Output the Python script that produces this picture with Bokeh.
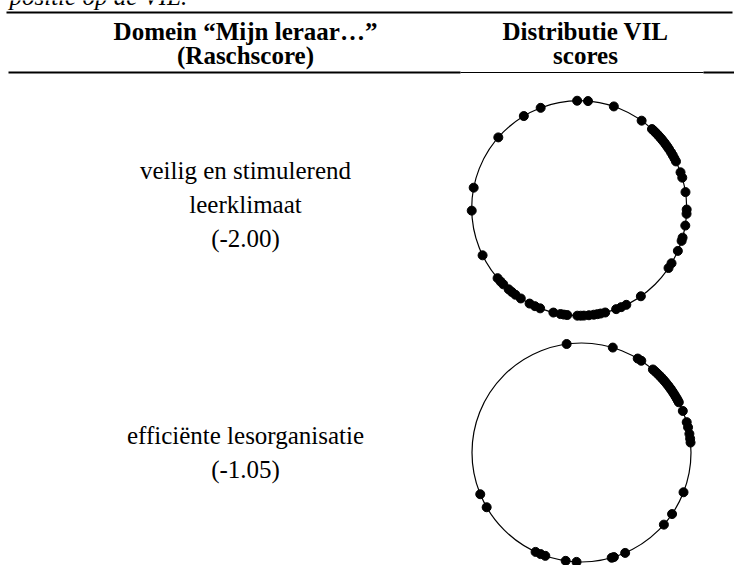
import numpy as np
from bokeh.plotting import figure
from bokeh.models import Range1d
from bokeh.embed import file_html
from bokeh.resources import INLINE
from bokeh.core.properties import value

# ---------------- data ----------------
caption = "positie op de VIL."
header_left = ["Domein \u201cMijn leraar\u2026\u201d", "(Raschscore)"]
header_right = ["Distributie VIL", "scores"]
domain_lines = [["veilig en stimulerend", "leerklimaat"], ["effici\u00ebnte lesorganisatie"]]
rasch_scores = [-2.00, -1.05]

# position of each VIL score on the circle (degrees, counter-clockwise from east)
angles_klimaat = [91.1, 85.3, 71.2, 54.5, 47.4, 46.0, 44.9, 43.4, 42.0, 40.5, 39.2, 37.6,
                  36.3, 34.8, 33.2, 31.2, 29.5, 27.6, 25.8, 19.5, 16.5, 8.6, -0.7, -3.0,
                  -9.3, -15.9, -17.7, -23.4, -30.8, -33.8, -55.0, -64.0, -67.0, -69.9,
                  -76.0, -78.5, -80.3, -82.2, -84.8, -87.5, -89.2, -91.0, -96.4, -98.2,
                  -100.0, -103.9, -111.3, -114.3, -117.5, -122.9, -126.4, -128.8, -131.0,
                  -134.9, -137.0, -139.4, -154.0, -178.7, 169.0, 138.8, 121.0, 111.0]
angles_lesorg = [97.8, 73.4, 59.1, 56.9, 49.3, 47.8, 46.3, 44.7, 43.2, 41.8, 40.4, 39.0,
                 37.6, 36.3, 35.1, 33.7, 32.4, 31.0, 29.7, 28.5, 27.3, 22.3, 16.1, 13.3,
                 9.8, 7.3, 5.2, -21.3, -34.2, -41.2, -66.5, -72.8, -74.0, -92.6, -98.3,
                 -109.3, -111.9, -114.8, -150.0, -157.6]
angle_sets = [angles_klimaat, angles_lesorg]

# ---------------- layout (page pixels) ----------------
W, H = 734, 565
circle_cx = [578.7, 581.0]
circle_cy = [207.7, 452.0]
circle_r = [107.5, 109.5]
label_y = [[170, 204, 238], [435, 469]]
header_y = [31, 55]
left_cx = 245
right_cx = 585
serif = value("Liberation Serif")

p = figure(width=W, height=H, output_backend="svg", toolbar_location=None,
           x_range=Range1d(0, W), y_range=Range1d(H, 0),
           min_border=0, outline_line_color=None)
p.axis.visible = False
p.grid.visible = False
p.background_fill_color = "white"
p.border_fill_color = "white"

# caption (cut off at the top)
p.text(x=[9], y=[-4], text=[caption], text_font=serif, text_font_size="25px",
       text_font_style="italic", text_baseline="middle", text_align="left",
       text_color="black")

# table rules
p.segment(x0=[6], y0=[12], x1=[732], y1=[12], line_color="black", line_width=2)
p.segment(x0=[8, 703], y0=[72, 72], x1=[460, 734], y1=[72, 72], line_color="black", line_width=2)
p.segment(x0=[460], y0=[72], x1=[703], y1=[72], line_color="black", line_width=1)

# headers
p.text(x=[left_cx] * 2, y=header_y, text=header_left, text_font=serif, text_font_size="25px",
       text_font_style="bold", text_align="center", text_baseline="middle", text_color="black")
p.text(x=[right_cx] * 2, y=header_y, text=header_right, text_font=serif, text_font_size="25px",
       text_font_style="bold", text_align="center", text_baseline="middle", text_color="black")

# domain labels
for i, lines in enumerate(domain_lines):
    all_lines = lines + [f"({rasch_scores[i]:.2f})"]
    n = len(all_lines)
    p.text(x=[left_cx] * n, y=label_y[i], text=all_lines, text_font=serif,
           text_font_size="25px", text_align="center", text_baseline="middle",
           text_color="black")

# circles and score dots
for i, angs in enumerate(angle_sets):
    a = np.radians(np.array(angs))
    cx, cy, r = circle_cx[i], circle_cy[i], circle_r[i]
    p.circle(x=[cx], y=[cy], radius=r, fill_color=None, line_color="black", line_width=1.2)
    p.scatter(x=cx + r * np.cos(a), y=cy - r * np.sin(a), size=9, marker="circle",
              fill_color="black", line_color="black")

open("out.html", "w").write(file_html(p, INLINE))
